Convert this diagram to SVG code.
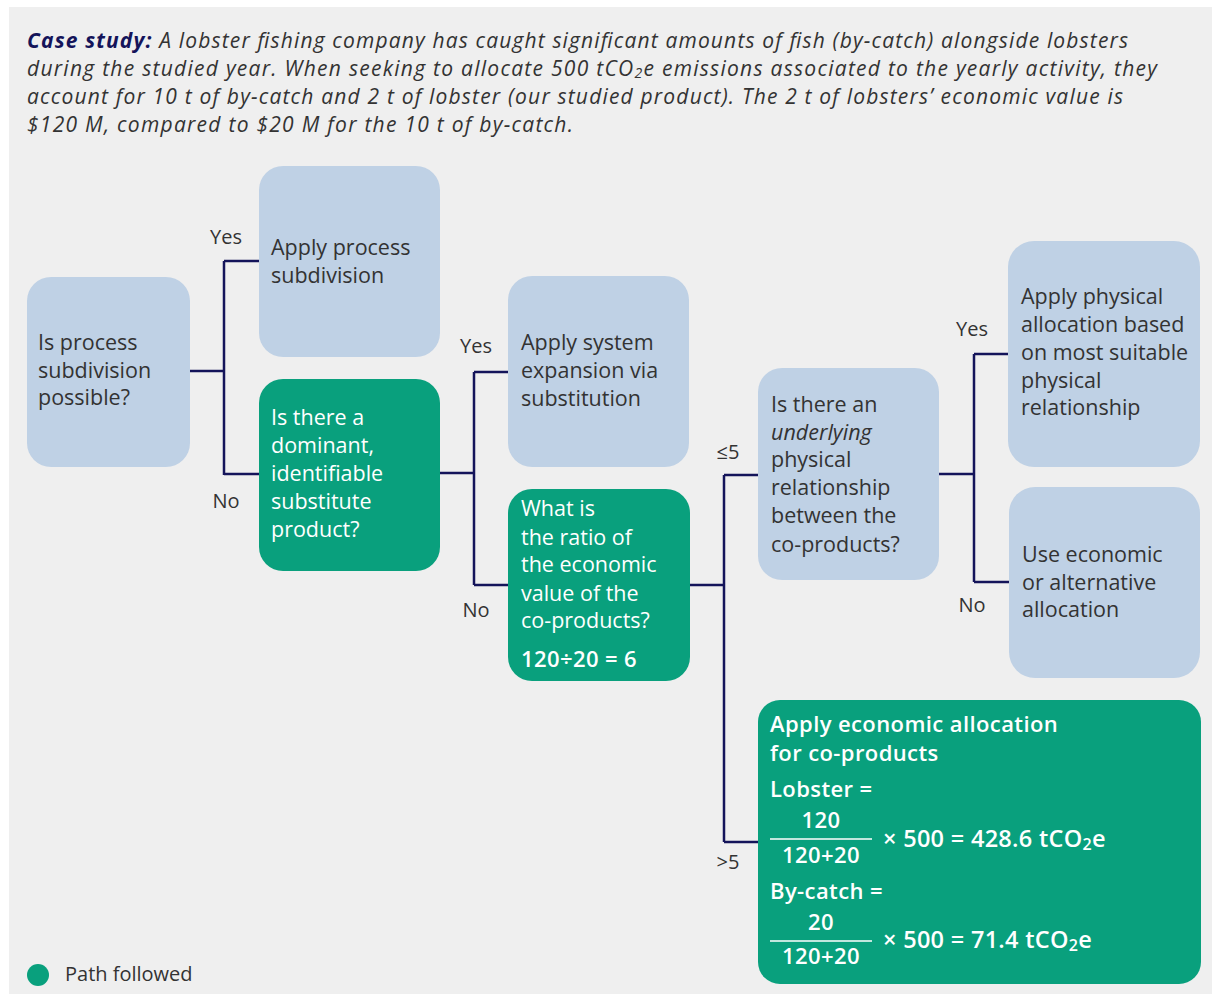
<svg xmlns="http://www.w3.org/2000/svg" width="1212" height="994" viewBox="0 0 1212 994">
<style>
.bg{fill:#efefef}
.b{fill:#bfd1e5}
.g{fill:#09a07d}
.t{font-family:"Open Sans","Liberation Sans",sans-serif;font-size:21.5px;fill:#333}
.w{font-family:"Open Sans","Liberation Sans",sans-serif;font-size:21.5px;fill:#fff}
.wb{font-family:"Open Sans","Liberation Sans",sans-serif;font-size:22px;fill:#fff;font-weight:600;letter-spacing:0.4px}
.eq{font-family:"Open Sans","Liberation Sans",sans-serif;font-size:23.5px;fill:#fff;font-weight:600;letter-spacing:0.3px}
.lbl{font-family:"Open Sans","Liberation Sans",sans-serif;font-size:20px;fill:#333}
.intro{font-family:"Open Sans","Liberation Sans",sans-serif;font-size:21px;fill:#333;font-style:italic}
.c{fill:none;stroke:#14145a;stroke-width:2.5}
.fr{stroke:#fff;stroke-width:1.5}
</style>
<rect class="bg" x="9" y="7" width="1203" height="987"/>
<g id="intro">
<text class="intro" x="27" y="48" textLength="1101"><tspan font-weight="bold" fill="#14145a">Case study:</tspan> A lobster fishing company has caught significant amounts of fish (by-catch) alongside lobsters</text>
<text class="intro" x="27" y="76" textLength="1130">during the studied year. When seeking to allocate 500 tCO<tspan font-size="14" baseline-shift="-2">2</tspan>e emissions associated to the yearly activity, they</text>
<text class="intro" x="27" y="104" textLength="1096">account for 10 t of by-catch and 2 t of lobster (our studied product). The 2 t of lobsters’ economic value is</text>
<text class="intro" x="27" y="132" textLength="546">$120 M, compared to $20 M for the 10 t of by-catch.</text>
</g>
<g id="connectors">
<path class="c" d="M190 371H224M224 261V475M224 261H259M224 474H259"/>
<path class="c" d="M440 473H474M474 372V585M474 372H508M474 585H508"/>
<path class="c" d="M690 585H724M724 475V842M724 475H758M724 842H758"/>
<path class="c" d="M939 474H974M974 354V582M974 354H1008M974 582H1009"/>
</g>
<g id="labels">
<text class="lbl" x="226" y="244" text-anchor="middle">Yes</text>
<text class="lbl" x="226" y="508" text-anchor="middle">No</text>
<text class="lbl" x="476" y="353" text-anchor="middle">Yes</text>
<text class="lbl" x="476" y="617" text-anchor="middle">No</text>
<text class="lbl" x="728" y="459" text-anchor="middle">≤5</text>
<text class="lbl" x="728" y="869" text-anchor="middle">&gt;5</text>
<text class="lbl" x="972" y="336" text-anchor="middle">Yes</text>
<text class="lbl" x="972" y="612" text-anchor="middle">No</text>
</g>
<g id="n1">
<rect class="b" x="27" y="277" width="163" height="190" rx="24"/>
<text class="t" x="38" y="350">Is process</text>
<text class="t" x="38" y="378">subdivision</text>
<text class="t" x="38" y="405">possible?</text>
</g>
<g id="n2">
<rect class="b" x="259" y="166" width="181" height="191" rx="24"/>
<text class="t" x="271" y="255">Apply process</text>
<text class="t" x="271" y="283">subdivision</text>
</g>
<g id="n3">
<rect class="g" x="259" y="379" width="181" height="192" rx="24"/>
<text class="w" x="271" y="425">Is there a</text>
<text class="w" x="271" y="453">dominant,</text>
<text class="w" x="271" y="481">identifiable</text>
<text class="w" x="271" y="509">substitute</text>
<text class="w" x="271" y="537">product?</text>
</g>
<g id="n4">
<rect class="b" x="508" y="276" width="181" height="191" rx="24"/>
<text class="t" x="521" y="350">Apply system</text>
<text class="t" x="521" y="378">expansion via</text>
<text class="t" x="521" y="406">substitution</text>
</g>
<g id="n5">
<rect class="g" x="508" y="489" width="182" height="192" rx="24"/>
<text class="w" x="521" y="516">What is</text>
<text class="w" x="521" y="545">the ratio of</text>
<text class="w" x="521" y="572">the economic</text>
<text class="w" x="521" y="601">value of the</text>
<text class="w" x="521" y="628">co-products?</text>
<text class="wb" x="521" y="667">120÷20 = 6</text>
</g>
<g id="n6">
<rect class="b" x="758" y="368" width="181" height="212" rx="24"/>
<text class="t" x="771" y="412">Is there an</text>
<text class="t" x="771" y="440" font-style="italic">underlying</text>
<text class="t" x="771" y="467">physical</text>
<text class="t" x="771" y="495">relationship</text>
<text class="t" x="771" y="523">between the</text>
<text class="t" x="771" y="552">co-products?</text>
</g>
<g id="n7">
<rect class="b" x="1008" y="241" width="192" height="226" rx="26"/>
<text class="t" x="1021" y="304">Apply physical</text>
<text class="t" x="1021" y="332">allocation based</text>
<text class="t" x="1021" y="360">on most suitable</text>
<text class="t" x="1021" y="388">physical</text>
<text class="t" x="1021" y="415">relationship</text>
</g>
<g id="n8">
<rect class="b" x="1009" y="487" width="191" height="191" rx="26"/>
<text class="t" x="1022" y="562">Use economic</text>
<text class="t" x="1022" y="590">or alternative</text>
<text class="t" x="1022" y="617">allocation</text>
</g>
<g id="n9">
<rect class="g" x="758" y="700" width="443" height="284" rx="22"/>
<text class="wb" x="770" y="732">Apply economic allocation</text>
<text class="wb" x="770" y="761">for co-products</text>
<text class="wb" x="770" y="797">Lobster =</text>
<text class="wb" x="821" y="828" text-anchor="middle">120</text>
<line class="fr" x1="770" y1="839" x2="872" y2="839"/>
<text class="wb" x="821" y="863" text-anchor="middle">120+20</text>
<text class="eq" x="883" y="847">× 500 = 428.6 tCO<tspan font-size="16" baseline-shift="-3">2</tspan>e</text>
<text class="wb" x="770" y="899">By-catch =</text>
<text class="wb" x="821" y="930" text-anchor="middle">20</text>
<line class="fr" x1="770" y1="941" x2="872" y2="941"/>
<text class="wb" x="821" y="964" text-anchor="middle">120+20</text>
<text class="eq" x="883" y="948">× 500 = 71.4 tCO<tspan font-size="16" baseline-shift="-3">2</tspan>e</text>
</g>
<g id="legend">
<circle class="g" cx="38" cy="975" r="11"/>
<text class="lbl" x="65" y="981" font-size="19">Path followed</text>
</g>
</svg>
